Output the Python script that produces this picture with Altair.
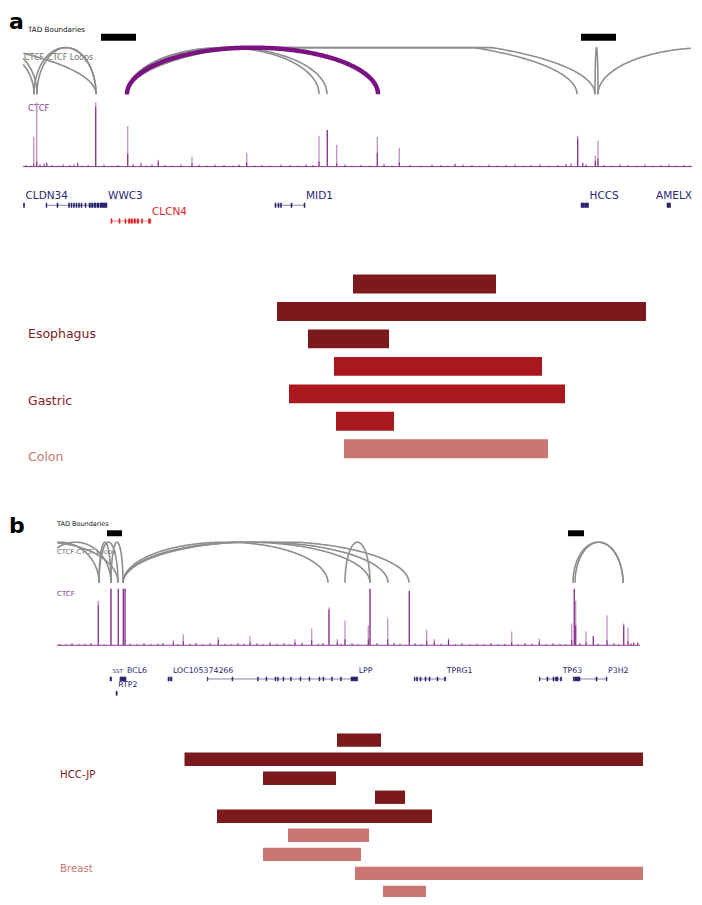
import altair as alt
import pandas as pd

# ======================= DATA (positions along each locus, figure units) =======================
# ---------- Panel a ----------
tad_a_start = [101, 581]
tad_a_end = [136, 616]

loop_a_start = [-60, -40, 34, 37, -584, 127, 127, 127, 127, 127, 595, 598]
loop_a_end = [34, 37, 96, 96, 96, 319, 327, 378, 577, 595, 598, 820]
loop_a_kind = ["other"] * 7 + ["highlight"] + ["other"] * 4

ctcf_a_pos = [33.7, 36.7, 46.7, 77.7, 95.7, 127.7, 141, 158.3, 192, 246.7,
              319, 327.3, 336.7, 377.3, 399.3, 455, 577.7, 582.7, 595.3, 598]
ctcf_a_rep1 = [30, 65, 4, 4, 65, 41, 4, 7, 10, 14, 31, 37, 22, 30, 19, 3, 31, 4, 11, 26]
ctcf_a_rep2 = [3, 5, 3, 3, 60, 13, 2, 5, 3, 4, 5, 37, 3, 14, 4, 2, 28, 3, 6, 8]

noise_a_pos = [26, 31, 40, 44, 52, 58, 63, 70, 74, 82,
               88, 104, 112, 118, 133, 146, 152, 165, 172, 181,
               199, 207, 215, 224, 233, 239, 255, 262, 270, 281,
               290, 298, 306, 313, 345, 352, 361, 370, 384, 392,
               410, 421, 432, 441, 448, 463, 472, 480, 489, 497,
               506, 515, 523, 531, 540, 549, 558, 566, 571, 586,
               604, 611, 620, 628, 637, 645, 653, 661, 669, 676,
               684, 690]
noise_a_val = [1.5, 1, 2, 3, 1.5, 1, 2, 1.5, 2, 1,
               1.5, 2, 1, 1.5, 2.5, 1, 2, 1.5, 1, 2,
               1.5, 1, 2, 1.5, 1, 2, 1, 1.5, 1, 2,
               1.5, 1, 2, 1.5, 2, 1, 1.5, 1, 2.5, 1,
               1.5, 1, 2, 1.5, 1, 2, 1.5, 1, 2, 1,
               1.5, 2, 1, 1.5, 2, 1, 1.5, 2.5, 3, 2,
               1.5, 1, 2, 1.5, 1, 2, 1, 1.5, 2, 1,
               1.5, 1]

gene_a_name = ["CLDN34", "WWC3", "CLCN4", "MID1", "HCCS", "AMELX"]
gene_a_start = [23.5, 46, 111, 275, 581, 667]
gene_a_end = [24.5, 107, 151, 305, 588.5, 670.5]
gene_a_row = [0, 0, 1, 0, 0, 0]
gene_a_kind = ["other", "other", "target", "other", "other", "other"]
exons_a = {
    "CLDN34": [(23.5, 24.5)],
    "WWC3": [(46, 46.8), (57, 58), (68.5, 69.5), (71, 72), (73.5, 74.5), (76, 77), (78.5, 79.5),
             (81, 82), (85, 86), (89, 90.5), (91.5, 93), (94, 96), (97, 99), (100, 107)],
    "CLCN4": [(111, 112), (119, 120), (125, 126), (128.5, 130), (131, 132.5), (134, 135.5),
              (137, 138.5), (141.5, 142.5), (148.5, 150.7)],
    "MID1": [(275, 276), (278, 279), (280.5, 281.5), (291, 292), (304, 305)],
    "HCCS": [(581, 584.5), (585, 588.5)],
    "AMELX": [(667, 670.5)],
}

bar_a_type = ["Esophagus"] * 3 + ["Gastric"] * 3 + ["Colon"]
bar_a_start = [353, 277, 308, 334, 289, 336, 344]
bar_a_end = [496, 646, 389, 542, 565, 394, 548]

# ---------- Panel b ----------
tad_b_start = [107, 568]
tad_b_end = [122, 584]

loop_b_start = [20, 40, -30, 99, 99, 111, 123, 123, 123, 123, 345, 573, 575]
loop_b_end = [99, 111, 118, 111, 118, 123, 328, 370, 388, 409, 370, 623, 623]
loop_b_kind = ["other"] * 13

ctcf_b_pos = [98.3, 111, 118.3, 123.3, 125, 173.3, 183.3, 218.3, 250, 295,
              311.7, 329, 337.3, 345, 368.3, 370, 387.7, 409.3, 426.7, 434.3,
              448.5, 511.7, 539.3, 571.7, 574.3, 575.7, 586, 593.3, 607, 623.7,
              628, 633.7, 637.7]
ctcf_b_rep1 = [45, 57, 57, 57, 57, 5, 11, 8, 9, 6,
               17, 38, 6, 25, 20, 57, 27, 55, 16, 6,
               7, 14, 7, 22, 57, 45, 14, 9, 30, 22,
               18, 3, 3]
ctcf_b_rep2 = [40, 57, 57, 57, 57, 3, 4, 5, 3, 3,
               5, 36, 3, 6, 6, 57, 6, 55, 4, 3,
               5, 3, 3, 5, 57, 20, 3, 9, 5, 20,
               4, 2, 2]

noise_b_pos = [60, 66, 72, 79, 85, 91, 104, 130, 137, 144,
               151, 158, 163, 178, 190, 196, 203, 210, 225, 231,
               238, 244, 257, 263, 270, 277, 284, 290, 302, 318,
               323, 341, 352, 358, 377, 394, 400, 415, 421, 441,
               455, 462, 470, 477, 484, 491, 498, 505, 518, 525,
               532, 546, 553, 560, 566, 580, 598, 614, 619, 631]
noise_b_val = [1.5, 1, 2, 1, 1.5, 2, 1, 1.5, 1, 2,
               1, 1.5, 2, 1, 1.5, 2.5, 1, 2, 1.5, 1,
               2, 1.5, 2, 1, 3, 1.5, 2, 1, 2.5, 1.5,
               2, 1.5, 2, 1, 2, 2.5, 1.5, 2, 1, 1.5,
               1, 2, 1, 1.5, 1, 2, 1, 1.5, 1, 2,
               1.5, 1, 2, 1.5, 1, 2, 1.5, 2, 1, 2]

gene_b_name = ["SST", "BCL6", "RTP2", "LOC105374266", "LPP", "TPRG1", "TP63", "P3H2"]
gene_b_start = [110, 119.5, 116, 168, 207.3, 414.3, 539.3, 573.3]
gene_b_end = [111.5, 126, 117.2, 172, 357.7, 445.7, 561.7, 607]
gene_b_row = [0, 0, 1, 0, 0, 0, 0, 0]
gene_b_kind = ["other"] * 8
exons_b = {
    "SST": [(110, 111.5)],
    "BCL6": [(120, 126)],
    "RTP2": [(116, 117.2)],
    "LOC105374266": [(168, 169.2), (170.3, 172)],
    "LPP": [(207.3, 207.8), (232, 232.8), (257.5, 258.3), (266, 266.8), (275, 275.8), (277.5, 278.3),
            (283, 283.8), (290.5, 291.3), (300, 300.8), (309, 309.8), (319, 319.8), (323, 323.8),
            (331.5, 332.3), (340.5, 341.3), (351, 357.7)],
    "TPRG1": [(414.3, 415), (416.5, 417.5), (420, 421), (425, 426), (429, 430), (437, 438), (444.5, 445.7)],
    "TP63": [(539.3, 540), (547, 548), (553, 554), (555.5, 558), (560.5, 561.7)],
    "P3H2": [(573.3, 574.5), (575, 580), (596, 597), (606.3, 607)],
}

bar_b_type = ["HCC-JP"] * 5 + ["Breast"] * 4
bar_b_start = [337, 184.5, 263, 375, 217, 288, 263, 355, 383]
bar_b_end = [381, 643, 336, 405, 432, 369, 361, 643, 426]

# ======================= LAYOUT / STYLE =======================
LAYOUT = {
    "a": dict(lo=23, hi=692, tad_y=(32, 39), loop_base=93, loop_cap=47, ctcf_base=166,
              gene_y=205, row_dy=16, label_dy=-9, exon_h=4.5, gene_font=10.5,
              bar_top=275, bar_step=27.7, bar_h=19),
    "b": dict(lo=57, hi=640, tad_y=(533, 539), loop_base=586, loop_cap=41, ctcf_base=649,
              gene_y=683, row_dy=14.5, label_dy=-8, exon_h=4, gene_font=7.8,
              bar_top=738, bar_step=19.2, bar_h=13.5),
}
DARK = "#7B191D"
RED = "#A8181D"
PINK = "#C97674"
NAVY = "#2B2570"
GENE_RED = "#E3262B"
FONT = "DejaVu Sans"

XS = alt.Scale(domain=[8, 694], nice=False, zero=False)
YS = alt.Scale(domain=[6, 903], nice=False, zero=False, reverse=True)


def X(f):
    return alt.X(f"{f}:Q", scale=XS, axis=None)


def Y(f):
    return alt.Y(f"{f}:Q", scale=YS, axis=None)


# ---------------- build tables ----------------
loops, tads, ctcf, noise, bases, genes, exons, bars = [], [], [], [], [], [], [], []
panels = {
    "a": (tad_a_start, tad_a_end, loop_a_start, loop_a_end, loop_a_kind, ctcf_a_pos, ctcf_a_rep1,
          ctcf_a_rep2, noise_a_pos, noise_a_val, gene_a_name, gene_a_start, gene_a_end, gene_a_row,
          gene_a_kind, exons_a, bar_a_type, bar_a_start, bar_a_end),
    "b": (tad_b_start, tad_b_end, loop_b_start, loop_b_end, loop_b_kind, ctcf_b_pos, ctcf_b_rep1,
          ctcf_b_rep2, noise_b_pos, noise_b_val, gene_b_name, gene_b_start, gene_b_end, gene_b_row,
          gene_b_kind, exons_b, bar_b_type, bar_b_start, bar_b_end),
}
for p, (ts, te, ls, le, lk, cp, c1, c2, npos, nval, gn, gs, ge, gr, gk, ex, bt, bs, be) in panels.items():
    L = LAYOUT[p]
    tads.append(pd.DataFrame({"start": ts, "end": te, "y1": L["tad_y"][0], "y2": L["tad_y"][1]}))
    loops.append(pd.DataFrame({"id": [f"{p}{i}" for i in range(len(ls))], "start": ls, "end": le,
                               "kind": lk, "lo": L["lo"], "hi": L["hi"],
                               "base": L["loop_base"], "cap": L["loop_cap"]}))
    ctcf.append(pd.DataFrame({"pos": cp,
                              "top1": [L["ctcf_base"] - v for v in c1],
                              "top2": [L["ctcf_base"] - v for v in c2],
                              "base": L["ctcf_base"]}))
    noise.append(pd.DataFrame({"pos": npos, "top": [L["ctcf_base"] - v for v in nval],
                               "base": L["ctcf_base"]}))
    bases.append(pd.DataFrame({"lo": [L["lo"]], "hi": [L["hi"]], "base": [L["ctcf_base"]]}))
    for name, s, e, r, k in zip(gn, gs, ge, gr, gk):
        liney = L["gene_y"] + r * L["row_dy"]
        genes.append(dict(name=name, start=s, end=e, liney=liney,
                          labx=min(e + 1, 656), laby=liney + L["label_dy"],
                          fs=5.5 if name == "SST" else L["gene_font"],
                          col=GENE_RED if k == "target" else NAVY))
        for (xs, xe) in ex[name]:
            exons.append(dict(s=xs, e=xe, y1=liney - L["exon_h"] / 2, y2=liney + L["exon_h"] / 2,
                              col=GENE_RED if k == "target" else NAVY))
    for i, (t, s, e) in enumerate(zip(bt, bs, be)):
        top = L["bar_top"] + i * L["bar_step"]
        bars.append(dict(type=t, start=s, end=e, top=top, bottom=top + L["bar_h"]))

loops = pd.concat(loops, ignore_index=True)
tads = pd.concat(tads, ignore_index=True)
ctcf = pd.concat(ctcf, ignore_index=True)
noise = pd.concat(noise, ignore_index=True)
bases = pd.concat(bases, ignore_index=True)
genes = pd.DataFrame(genes)
exons = pd.DataFrame(exons)
bars = pd.DataFrame(bars)

labels = pd.DataFrame([
    dict(text="TAD Boundaries", x=28, y=28, fs=7.2, col="#111111"),
    dict(text="CTCF-CTCF Loops", x=24, y=56, fs=8, col="#707070"),
    dict(text="CTCF", x=28, y=107, fs=8.5, col="#8B348F"),
    dict(text="TAD Boundaries", x=57, y=527, fs=6.5, col="#111111"),
    dict(text="CTCF-CTCF Loops", x=57, y=555, fs=6.8, col="#707070"),
    dict(text="CTCF", x=57, y=597, fs=7, col="#8B348F"),
    dict(text="Esophagus", x=28, y=335, fs=12.5, col=DARK),
    dict(text="Gastric", x=28, y=403, fs=12.5, col="#8E1A22"),
    dict(text="Colon", x=28, y=459, fs=12.5, col=PINK),
    dict(text="HCC-JP", x=60, y=780, fs=10.2, col=DARK),
    dict(text="Breast", x=60, y=875, fs=10.2, col=PINK),
])
letters = pd.DataFrame([dict(text="a", x=9, y=27), dict(text="b", x=9, y=536)])

# ---------------- layers ----------------
lbl_layer = alt.Chart(labels).mark_text(align="left", baseline="middle", font=FONT).encode(
    x=X("x"), y=Y("y"), text="text:N",
    size=alt.Size("fs:Q", scale=None), color=alt.Color("col:N", scale=None))
letter_layer = alt.Chart(letters).mark_text(align="left", baseline="alphabetic", font=FONT,
                                            fontWeight="bold", fontSize=22, color="#000").encode(
    x=X("x"), y=Y("y"), text="text:N")

tad_layer = alt.Chart(tads).mark_rect(color="#000000").encode(
    x=X("start"), x2="end:Q", y=Y("y1"), y2="y2:Q")

arc_base = alt.Chart(loops).transform_calculate(
    t="sequence(0, 1.0001, 0.004)"
).transform_flatten(["t"]).transform_calculate(
    w="datum.end - datum.start"
).transform_calculate(
    amp="datum.cap * (1 + max(0, datum.w - 260) / 1000)",
    x="datum.start + datum.w * (1 - cos(PI * datum.t)) / 2",
).transform_calculate(
    y="datum.base - min(datum.amp * sin(PI * datum.t), datum.cap)"
).transform_filter("datum.x >= datum.lo && datum.x <= datum.hi")

gray_arcs = arc_base.transform_filter("datum.kind == 'other'").mark_line(
    color="#8E8E8E", strokeWidth=1.6).encode(x=X("x"), y=Y("y"), detail="id:N", order="t:Q")
purple_arcs = arc_base.transform_filter("datum.kind == 'highlight'").mark_line(
    color="#7A1282", strokeWidth=4.5, strokeCap="butt").encode(
    x=X("x"), y=Y("y"), detail="id:N", order="t:Q")

base_layer = alt.Chart(bases).mark_rule(color="#8A3A8E", strokeWidth=1).encode(
    x=X("lo"), x2="hi:Q", y=Y("base"))
noise_layer = alt.Chart(noise).mark_rule(color="#7C1F80", strokeWidth=1).encode(
    x=X("pos"), y=Y("top"), y2="base:Q")
ctcf_light = alt.Chart(ctcf).mark_rule(color="#C58FC8", strokeWidth=1.3).encode(
    x=X("pos"), y=Y("top1"), y2="base:Q")
ctcf_dark = alt.Chart(ctcf).mark_rule(color="#7C1F80", strokeWidth=1.1, opacity=0.9).encode(
    x=X("pos"), y=Y("top2"), y2="base:Q")

intron_layer = alt.Chart(genes).mark_rule(strokeWidth=0.9, opacity=0.65).encode(
    x=X("start"), x2="end:Q", y=Y("liney"), color=alt.Color("col:N", scale=None))
exon_layer = alt.Chart(exons).mark_rect(strokeWidth=0.6).encode(
    x=X("s"), x2="e:Q", y=Y("y1"), y2="y2:Q",
    color=alt.Color("col:N", scale=None), stroke=alt.Stroke("col:N", scale=None))
gene_lbl = alt.Chart(genes).mark_text(align="left", baseline="middle", font=FONT).encode(
    x=X("labx"), y=Y("laby"), text="name:N",
    size=alt.Size("fs:Q", scale=None), color=alt.Color("col:N", scale=None))

bar_layer = alt.Chart(bars).mark_rect().encode(
    x=X("start"), x2="end:Q", y=Y("top"), y2="bottom:Q",
    color=alt.Color("type:N", legend=None,
                    scale=alt.Scale(domain=["Esophagus", "Gastric", "Colon", "HCC-JP", "Breast"],
                                    range=[DARK, RED, PINK, DARK, PINK])))

chart = alt.layer(
    lbl_layer, letter_layer, tad_layer, gray_arcs, purple_arcs,
    base_layer, noise_layer, ctcf_light, ctcf_dark,
    intron_layer, exon_layer, gene_lbl, bar_layer,
).resolve_scale(color="independent").properties(
    width=686, height=889, padding=0,
    autosize=alt.AutoSizeParams(type="none"),
).configure_view(stroke=None)

chart.save("out.html", embed_options={"renderer": "svg", "actions": False})
